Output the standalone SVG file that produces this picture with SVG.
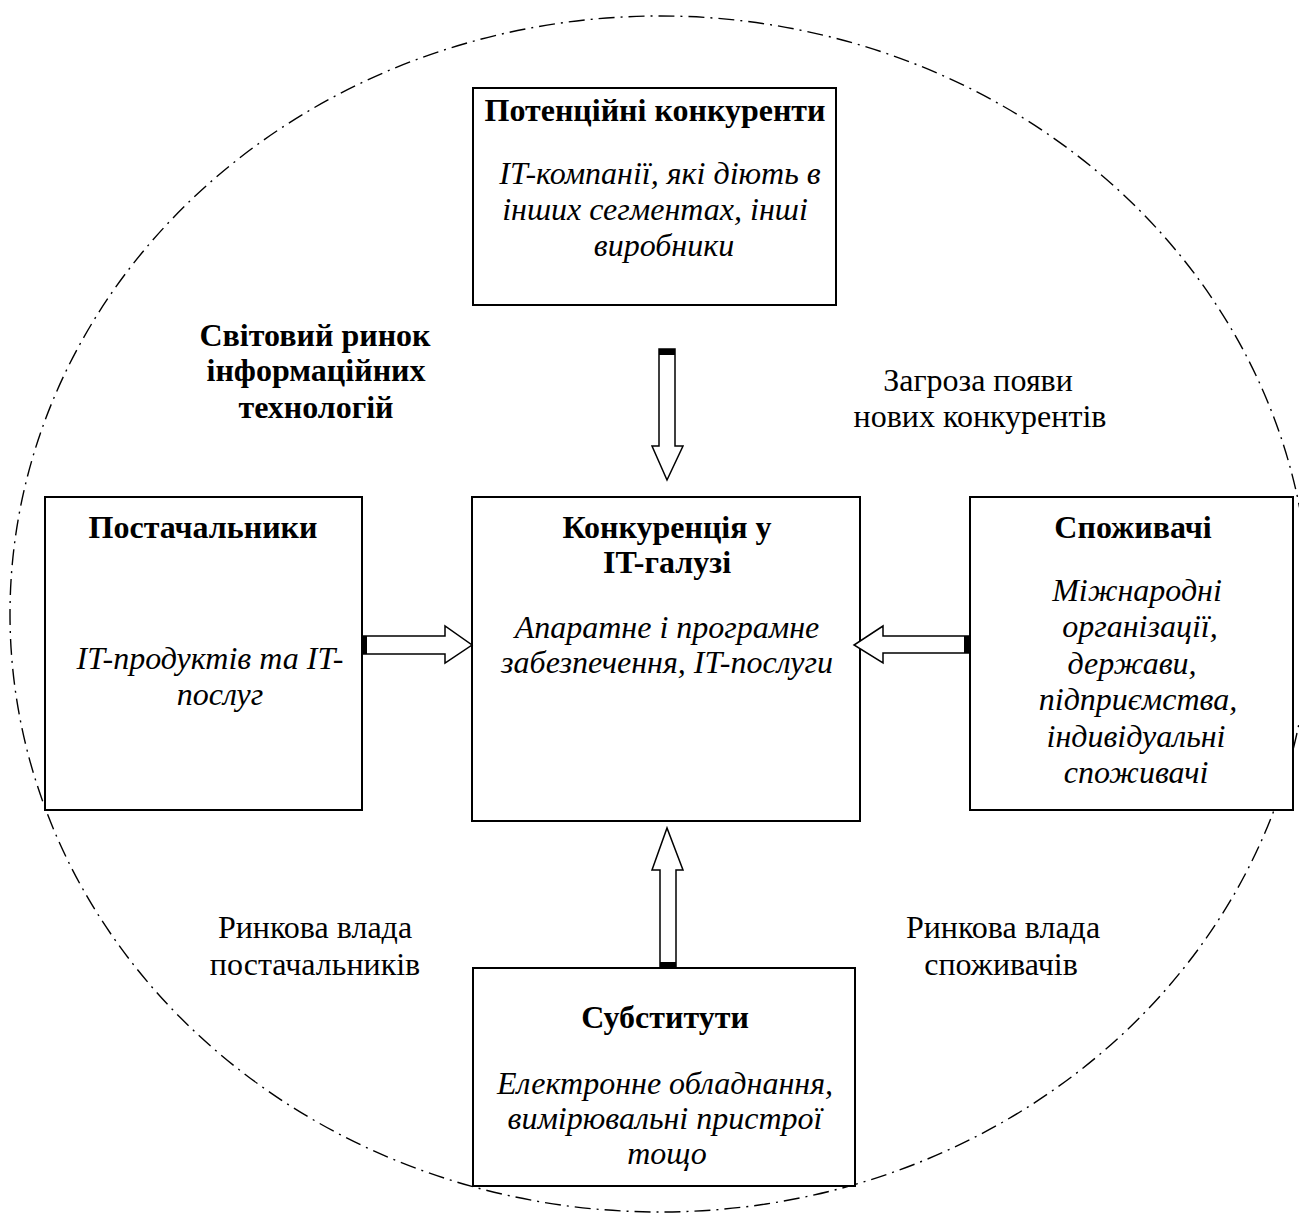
<svg xmlns="http://www.w3.org/2000/svg" width="1299" height="1216" viewBox="0 0 1299 1216">
<style>
.box{fill:#fff;stroke:#000;stroke-width:2}
.b{font-family:"Liberation Serif","Times New Roman",serif;font-weight:bold;font-size:32px;text-anchor:middle;fill:#000}
.i{font-family:"Liberation Serif","Times New Roman",serif;font-style:italic;font-size:32px;text-anchor:middle;fill:#000}
.r{font-family:"Liberation Serif","Times New Roman",serif;font-size:32px;text-anchor:middle;fill:#000}
.arr{fill:#fff;stroke:#000;stroke-width:1.5;stroke-linejoin:miter}
.tail{fill:#000}
</style>
<rect width="1299" height="1216" fill="#fff"/>
<ellipse id="market" cx="660" cy="614" rx="650" ry="598" fill="none" stroke="#000" stroke-width="1.4" stroke-dasharray="16 6 2 6"/>
<text class="b" x="315" y="346">Світовий ринок</text>
<text class="b" x="316" y="381">інформаційних</text>
<text class="b" x="316" y="418">технологій</text>
<text class="r" x="978" y="391">Загроза появи</text>
<text class="r" x="980" y="427">нових конкурентів</text>
<text class="r" x="315" y="938">Ринкова влада</text>
<text class="r" x="315" y="975">постачальників</text>
<text class="r" x="1003" y="938">Ринкова влада</text>
<text class="r" x="1001" y="975">споживачів</text>
<g id="potential">
<rect class="box" x="473" y="88" width="363" height="217"/>
<text class="b" x="655" y="121">Потенційні конкуренти</text>
<text class="i" x="660" y="184">IT-компанії, які діють в</text>
<text class="i" x="655" y="220">інших сегментах, інші</text>
<text class="i" x="664" y="256">виробники</text>
</g>
<g id="competition">
<rect class="box" x="472" y="497" width="388" height="324"/>
<text class="b" x="667" y="538">Конкуренція у</text>
<text class="b" x="667" y="573">IT-галузі</text>
<text class="i" x="667" y="638">Апаратне і програмне</text>
<text class="i" x="667" y="673">забезпечення, IT-послуги</text>
</g>
<g id="suppliers">
<rect class="box" x="45" y="497" width="317" height="313"/>
<text class="b" x="203" y="538">Постачальники</text>
<text class="i" x="210" y="669">IT-продуктів та IT-</text>
<text class="i" x="220" y="705">послуг</text>
</g>
<g id="consumers">
<rect class="box" x="970" y="497" width="323" height="313"/>
<text class="b" x="1133" y="538">Споживачі</text>
<text class="i" x="1137" y="601">Міжнародні</text>
<text class="i" x="1140" y="637">організації,</text>
<text class="i" x="1132" y="674">держави,</text>
<text class="i" x="1138" y="710">підприємства,</text>
<text class="i" x="1136" y="747">індивідуальні</text>
<text class="i" x="1136" y="783">споживачі</text>
</g>
<g id="substitutes">
<rect class="box" x="473" y="968" width="382" height="218"/>
<text class="b" x="665" y="1028">Субститути</text>
<text class="i" x="665" y="1094">Електронне обладнання,</text>
<text class="i" x="665" y="1129">вимірювальні пристрої</text>
<text class="i" x="667" y="1164">тощо</text>
</g>
<g id="connectors">
<polygon class="arr" points="659,349 675,349 675,446 683,446 667,480 652,446 659,446"/>
<rect class="tail" x="659" y="349" width="16" height="6"/>
<polygon class="arr" points="362,636 445,636 445,626 472,645 445,663 445,654 362,654"/>
<rect class="tail" x="362" y="636" width="5" height="18"/>
<polygon class="arr" points="970,636 883,636 883,626 854,645 883,663 883,653 970,653"/>
<rect class="tail" x="964" y="636" width="6" height="17"/>
<polygon class="arr" points="660,967 676,967 676,870 683,870 667,828 652,870 660,870"/>
<rect class="tail" x="660" y="962" width="16" height="5"/>
</g>
</svg>
